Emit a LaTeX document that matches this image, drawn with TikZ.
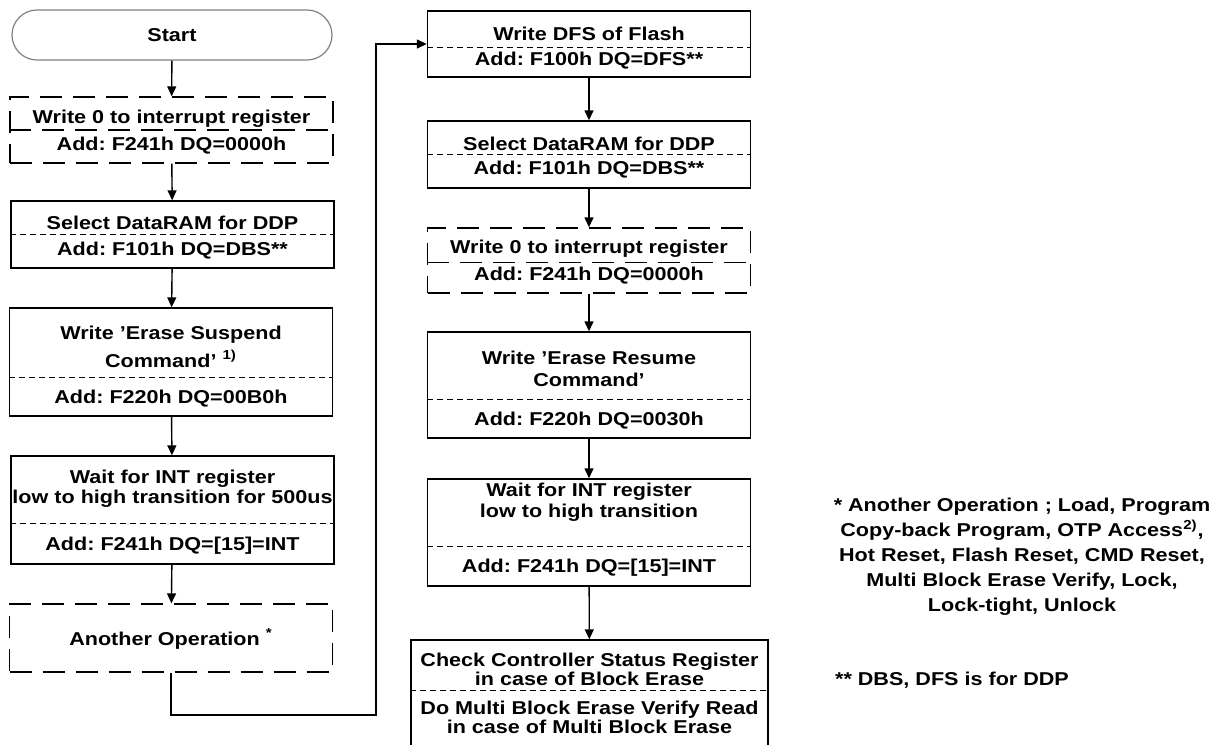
\documentclass[tikz,border=0pt]{standalone}
\usepackage{fontspec}
\setmainfont{Liberation Sans}[FakeStretch=1.16]
\frenchspacing
\usepackage{tikz}
\usetikzlibrary{arrows.meta,positioning}

\tikzset{
    txt/.style={font=\fontsize{9.3}{10}\selectfont\bfseries, align=center, inner sep=0pt, yshift=-0.9pt},
    frame/.style={draw, line width=0.7pt, minimum width=161.5pt, inner sep=0pt},
    dframe/.style={frame, dash pattern=on 11pt off 5.5pt},
    startbox/.style={draw=black!50, line width=0.6pt, rounded corners=12.5pt, minimum width=160pt, minimum height=25pt, txt, yshift=0.9pt},
    sep/.style={line width=0.6pt, dash pattern=on 3pt off 2pt},
    dsep/.style={line width=0.6pt, dash pattern=on 11pt off 5.5pt},
    flow/.style={line width=0.7pt, -{Triangle[length=5pt,width=4.5pt]}}
}

\begin{document}
\begin{tikzpicture}[x=0.5pt, y=-0.5pt]
    \useasboundingbox (0,0) rectangle (1217,745);

    % left column
    \node[startbox] (start) at (172,35) {Start};

    \node[dframe, minimum height=33pt] (wrA) at (171.5,130) {};
    \draw[dsep] (wrA.west) -- (wrA.east);
    \node[txt] (wrAtop) at (171.5,117) {Write 0 to interrupt register};
    \node[txt] (wrAbot) at (171.5,144) {Add: F241h DQ=0000h};

    \node[frame, minimum height=33.5pt] (seldA) at (172.5,234.5) {};
    \draw[sep] (seldA.west) -- (seldA.east);
    \node[txt] (seldAtop) at (172.5,221) {Select DataRAM for DDP};
    \node[txt] (seldAbot) at (172.5,249) {Add: F101h DQ=DBS**};

    \node[frame, minimum height=54pt] (susp) at (171,362) {};
    \draw[sep] ([yshift=19.5pt]susp.south west) -- ([yshift=19.5pt]susp.south east);
    \node[txt] (susptop) at (171,345) {Write ’Erase Suspend\\[2.5pt]Command’ \textsuperscript{1)}};
    \node[txt] (suspbot) at (171,397) {Add: F220h DQ=00B0h};

    \node[frame, minimum height=54pt] (waitA) at (172.5,510) {};
    \draw[sep] ([yshift=20.5pt]waitA.south west) -- ([yshift=20.5pt]waitA.south east);
    \node[txt] (waitAtop) at (172.5,487) {Wait for INT register\\low to high transition for 500us};
    \node[txt] (waitAbot) at (172.5,544) {Add: F241h DQ=[15]=INT};

    \node[dframe, minimum height=34pt] (other) at (171,638) {};
    \node[txt] (othertxt) at (171,637) {Another Operation \textsuperscript{*}};

    % right column
    \node[frame, minimum height=33pt] (wdfs) at (589,44) {};
    \draw[sep] ([yshift=15pt]wdfs.south west) -- ([yshift=15pt]wdfs.south east);
    \node[txt] (wdfstop) at (589,32) {Write DFS of Flash};
    \node[txt] (wdfsbot) at (589,59) {Add: F100h DQ=DFS**};

    \node[frame, minimum height=33.5pt] (seldB) at (589,154.5) {};
    \draw[sep] (seldB.west) -- (seldB.east);
    \node[txt] (seldBtop) at (589,142) {Select DataRAM for DDP};
    \node[txt] (seldBbot) at (589,168) {Add: F101h DQ=DBS**};

    \node[dframe, minimum height=32.5pt] (wrB) at (589,260.5) {};
    \draw[dsep] ([yshift=15.5pt]wrB.south west) -- ([yshift=15.5pt]wrB.south east);
    \node[txt] (wrBtop) at (589,247) {Write 0 to interrupt register};
    \node[txt] (wrBbot) at (589,274) {Add: F241h DQ=0000h};

    \node[frame, minimum height=53pt] (resm) at (589,385) {};
    \draw[sep] ([yshift=19.5pt]resm.south west) -- ([yshift=19.5pt]resm.south east);
    \node[txt] (resmtop) at (589,367) {Write ’Erase Resume\\[1pt]Command’};
    \node[txt] (resmbot) at (589,419) {Add: F220h DQ=0030h};

    \node[frame, minimum height=53.5pt] (waitB) at (589,532.5) {};
    \draw[sep] ([yshift=20pt]waitB.south west) -- ([yshift=20pt]waitB.south east);
    \node[txt] (waitBtop) at (589,500.5) {Wait for INT register\\[0.5pt]low to high transition};
    \node[txt] (waitBbot) at (589,566) {Add: F241h DQ=[15]=INT};

    \node[frame, minimum width=178.5pt, minimum height=56pt] (chk) at (589.5,696) {};
    \draw[sep] ([yshift=-25.5pt]chk.north west) -- ([yshift=-25.5pt]chk.north east);
    \node[txt] (chktop) at (589.5,668) {Check Controller Status Register\\[-0.5pt]in case of Block Erase};
    \node[txt] (chkbot) at (589.5,716) {Do Multi Block Erase Verify Read\\[-0.5pt]in case of Multi Block Erase};

    % notes
    \node[txt, font=\fontsize{9.3}{12.4}\selectfont\bfseries] (note1) at (1022,555) {* Another Operation ; Load, Program\\Copy-back Program, OTP Access\textsuperscript{2)},\\Hot Reset, Flash Reset, CMD Reset,\\Multi Block Erase Verify, Lock,\\Lock-tight, Unlock};
    \node[txt] (note2) at (952,678) {** DBS, DFS is for DDP};

    % connectors
    \coordinate (bend) at (376,715);
    \draw[flow] (start) -- (wrA);
    \draw[flow] (wrA) -- (seldA);
    \draw[flow] (seldA) -- (susp);
    \draw[flow] (susp) -- (waitA);
    \draw[flow] (waitA) -- (other);
    \draw[flow] (other.south) |- (bend) |- (wdfs.west);
    \draw[flow] (wdfs) -- (seldB);
    \draw[flow] (seldB) -- (wrB);
    \draw[flow] (wrB) -- (resm);
    \draw[flow] (resm) -- (waitB);
    \draw[flow] (waitB) -- (chk);
\end{tikzpicture}
\end{document}
